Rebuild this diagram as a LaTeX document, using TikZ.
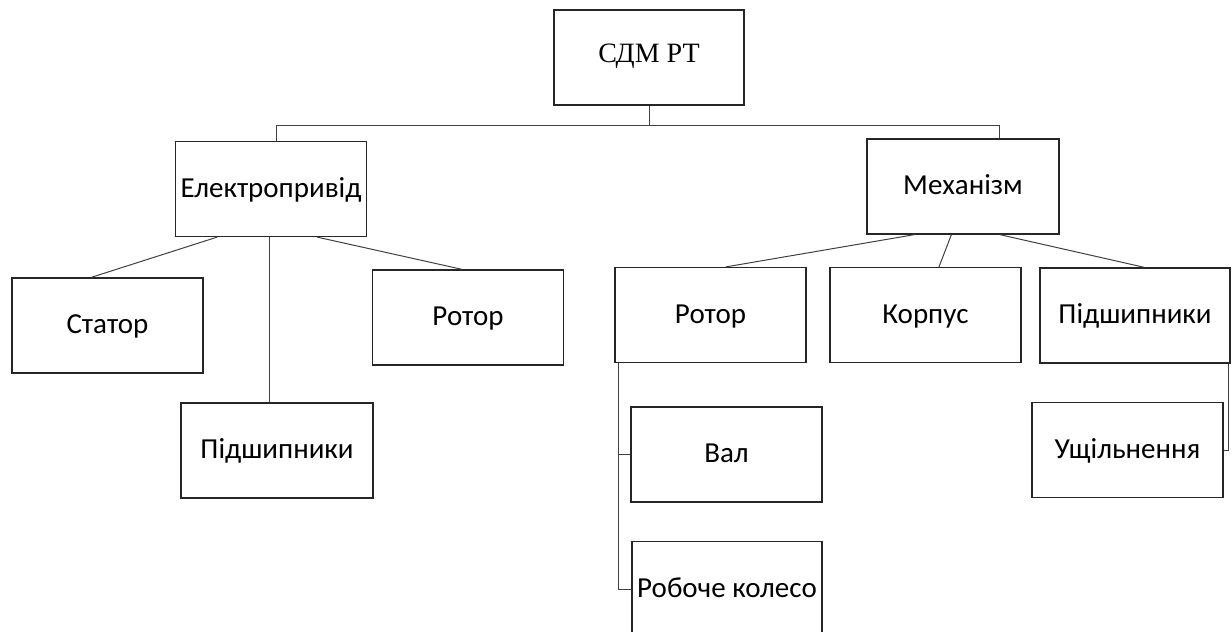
\documentclass[tikz,border=0pt]{standalone}
\usepackage{fontspec}
\setmainfont{Carlito}
\newfontfamily\rootfont{Liberation Serif}
\usetikzlibrary{calc}

\begin{document}
\begin{tikzpicture}[x=1pt,y=-1pt,
    partbox/.style={rectangle, draw=black!85, line width=1.2pt, minimum width=191pt,
                    minimum height=95pt, inner sep=0pt, align=center,
                    text height=18pt, text depth=2pt,
                    font=\fontsize{29}{34}\selectfont},
    rootbox/.style={partbox, minimum width=190pt, text height=18pt, text depth=9pt,
                    font=\rootfont\fontsize{28}{33}\selectfont},
    link/.style={draw=black!75, line width=1pt}
  ]
  \useasboundingbox (0,0) rectangle (1232,632);
  \clip (0,0) rectangle (1232,632);
  % top
  \node[rootbox] (sdm) at (649,57.5) {СДМ РТ};
  \node[partbox] (drive) at (271,189) {Електропривід};
  \node[partbox, minimum width=192pt] (mech) at (963,186.5) {Механізм};
  % second level
  \node[partbox] (stator) at (107.5,325.5) {Статор};
  \node[partbox] (rotorA) at (468,317.5) {Ротор};
  \node[partbox, minimum width=192pt] (bearA) at (277,450.5) {Підшипники};
  \node[partbox] (rotorB) at (710.5,315) {Ротор};
  \node[partbox] (housing) at (925.5,315) {Корпус};
  \node[partbox, minimum width=190pt] (bearB) at (1135,315.5) {Підшипники};
  % third level
  \node[partbox] (shaft) at (726.5,454.5) {Вал};
  \node[partbox, minimum width=190pt] (wheel) at (727,589) {Робоче колесо};
  \node[partbox] (seal) at (1127.5,450) {Ущільнення};

  % connectors
  \coordinate (bus) at (649,125.5);
  \draw[link] (sdm.south) -- (bus);
  \draw[link] ([xshift=5pt]drive.north) |- (bus) -| ([xshift=36pt]mech.north);
  \draw[link] ($(drive.south west)!0.22!(drive.south east)$) -- ($(stator.north west)!0.415!(stator.north east)$);
  \draw[link] ([xshift=-2pt]drive.south) -- ([xshift=-2pt]drive.south |- bearA.north);
  \draw[link] ($(drive.south west)!0.74!(drive.south east)$) -- ($(rotorA.north west)!0.47!(rotorA.north east)$);
  \draw[link] ($(mech.south west)!0.25!(mech.south east)$) -- ($(rotorB.north west)!0.58!(rotorB.north east)$);
  \draw[link] ($(mech.south west)!0.44!(mech.south east)$) -- ($(housing.north west)!0.57!(housing.north east)$);
  \draw[link] ($(mech.south west)!0.69!(mech.south east)$) -- ($(bearB.north west)!0.55!(bearB.north east)$);
  \draw[link] ([xshift=4pt]rotorB.south west) |- (shaft.west);
  \draw[link] ([xshift=4pt]rotorB.south west) |- (wheel.west);
  \draw[link] ([xshift=-2pt]bearB.south east) |- (seal.east);
\end{tikzpicture}
\end{document}
